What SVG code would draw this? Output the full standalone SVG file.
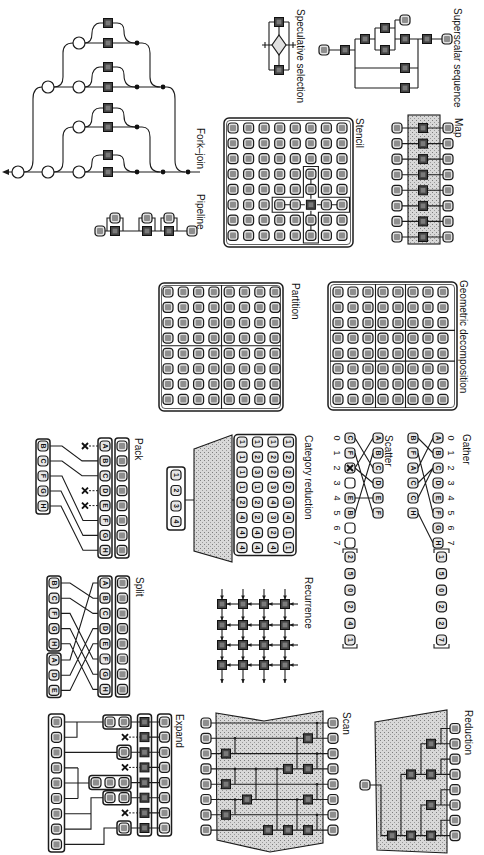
<svg xmlns="http://www.w3.org/2000/svg" width="484" height="855" viewBox="0 0 484 855">
<defs>
<style>
.l{fill:none;stroke:#1c1c1c;stroke-width:1.1}
.la{fill:none;stroke:#1c1c1c;stroke-width:1.1;marker-end:url(#ar)}
.fr{fill:none;stroke:#1c1c1c;stroke-width:1.5}
.fi{fill:none;stroke:#1c1c1c;stroke-width:0.7}
.sh{fill:url(#st);stroke:#1c1c1c;stroke-width:1.1}
.dt{fill:none;stroke:#1c1c1c;stroke-width:1;stroke-dasharray:2 1.5}
.lb{font-family:"Liberation Sans",Arial,sans-serif;font-size:10px;fill:#111}
.t{font-family:"Liberation Sans",Arial,sans-serif;font-size:7px;font-weight:bold;fill:#111;text-anchor:middle;dominant-baseline:central}
.n{font-family:"Liberation Sans",Arial,sans-serif;font-size:9px;fill:#111;text-anchor:middle;dominant-baseline:central}
</style>
<pattern id="st" width="4" height="4" patternUnits="userSpaceOnUse"><rect width="4" height="4" fill="#d8d8d8"/><rect width="1" height="1" fill="#7e7e7e"/><rect x="2" y="2" width="1" height="1" fill="#9a9a9a"/></pattern>
<g id="c"><rect x="-5" y="-5" width="10" height="10" rx="3" fill="#e2e2e2" stroke="#1a1a1a" stroke-width="1.2"/><rect x="-3" y="-3" width="6" height="6" rx="1" fill="#8e8e8e"/></g>
<g id="e"><rect x="-5" y="-5" width="10" height="10" rx="3" fill="#e6e6e6" stroke="#1a1a1a" stroke-width="1.2"/></g>
<g id="w"><rect x="-5" y="-5" width="10" height="10" rx="3" fill="#fff" stroke="#1a1a1a" stroke-width="1.2"/></g>
<g id="d"><rect x="-4.5" y="-4.5" width="9" height="9" fill="#444" stroke="#111" stroke-width="1"/><rect x="-2.4" y="-2.4" width="4.8" height="4.8" fill="#7a7a7a"/></g>
<g id="x"><path d="M-3,-3 L3,3 M3,-3 L-3,3" stroke="#111" stroke-width="1.9" fill="none"/></g>
<g id="col8"><use href="#c"/><use href="#c" y="15.35"/><use href="#c" y="30.7"/><use href="#c" y="46.05"/><use href="#c" y="61.4"/><use href="#c" y="76.75"/><use href="#c" y="92.1"/><use href="#c" y="107.45"/></g>
<marker id="ar" viewBox="0 0 6 6" refX="5.5" refY="3" markerWidth="4" markerHeight="4" orient="auto"><path d="M0,0.5 L6,3 L0,5.5 z" fill="#1c1c1c"/></marker>
</defs>
<rect width="484" height="855" fill="#fff"/>

<g id="fork-join">
<path class="l" d="M8,172 H200 M48,87 H163 M79,127 H137 M79,43 H137"/>
<path d="M2,172 L9,169 L9,175 z" fill="#1c1c1c"/>
<path class="l" d="M24,172 C30,172 33,168 33,160 V99 C33,91 36,87 42,87 M54,172 C60,172 63,168 63,162 V137 C63,130 66,127 73,127 M85,172 C91,172 92,166 92,162 C92,158 95,155 100,155 H104 M112,155 H117 C122,155 124,158 124,163 C124,169 127,172 135,172 M85,127 C91,127 92,121 92,117 C92,112 95,108 100,108 H104 M112,108 H117 C122,108 124,111 124,116 C124,123 127,127 135,127 M137,127 H142 C148,127 150,131 150,137 V162 C150,168 153,172 160,172 M85,87 C91,87 92,81 92,77 C92,72 95,67 100,67 H104 M112,67 H117 C122,67 124,70 124,75 C124,82 127,87 135,87 M54,87 C60,87 63,83 63,77 V53 C63,46 66,43 73,43 M85,43 C91,43 92,37 92,33 C92,28 95,23 100,23 H104 M112,23 H117 C122,23 124,26 124,31 C124,38 127,43 135,43 M137,43 H142 C148,43 150,47 150,53 V77 C150,83 153,87 160,87 M163,87 H167 C173,87 175,91 175,99 V160 C175,168 178,172 185,172"/>
<g fill="#fff" stroke="#1c1c1c" stroke-width="1.2"><circle cx="18" cy="172" r="6"/><circle cx="48" cy="172" r="6"/><circle cx="79" cy="172" r="6"/><circle cx="48" cy="87" r="6"/><circle cx="79" cy="127" r="6"/><circle cx="79" cy="87" r="6"/><circle cx="79" cy="43" r="6"/></g>
<g fill="#111"><circle cx="137" cy="172" r="2.4"/><circle cx="163" cy="172" r="2.4"/><circle cx="188" cy="172" r="2.4"/><circle cx="137" cy="127" r="2.4"/><circle cx="137" cy="87" r="2.4"/><circle cx="163" cy="87" r="2.4"/><circle cx="137" cy="43" r="2.4"/></g>
<use href="#d" x="108" y="172"/><use href="#d" x="108" y="155"/><use href="#d" x="108" y="127"/><use href="#d" x="108" y="108"/><use href="#d" x="108" y="87"/><use href="#d" x="108" y="67"/><use href="#d" x="108" y="43"/><use href="#d" x="108" y="23"/>
<text class="lb" transform="translate(197 128) rotate(90)">Fork–join</text>
</g>

<g id="pipeline">
<path class="l" d="M100,231 H192 M107,231 V218 H123 V231 M139,231 V218 H155 V231 M161,231 V218 H177 V231"/>
<use href="#c" x="100" y="231"/><use href="#d" x="115" y="231"/><use href="#d" x="147" y="231"/><use href="#d" x="169" y="231"/><use href="#c" x="192" y="231"/>
<use href="#c" x="115" y="218"/><use href="#c" x="147" y="218"/><use href="#c" x="169" y="218"/>
<text class="lb" transform="translate(197 194) rotate(90)">Pipeline</text>
</g>

<g id="speculative-selection">
<path class="l" d="M269,22 H289 M269,70 H289 M269,22 V70 M289,22 V70 M279,22 V70 M262,45 H296 M265,42 V48 M293,42 V48"/>
<polygon points="279,35 286,45 279,55 272,45" fill="#e0e0e0" stroke="#1c1c1c" stroke-width="1.2"/>
<use href="#d" x="279" y="22"/><use href="#d" x="279" y="70"/>
<text class="lb" transform="translate(297 9) rotate(90)">Speculative selection</text>
</g>

<g id="superscalar-sequence">
<path class="l" d="M329,50 H341 M349,50 H355 M355,39 V88 M355,39 H361 M355,68 H401 M355,88 H401 M369,39 H375 M375,28 V50 M375,28 H381 M375,50 H381 M389,28 H395 M395,20 V50 M395,20 H400 M389,50 H395 M395,39 H401 M409,39 H423 M409,68 H418 M409,88 H418 M418,39 V88 M431,39 H442"/>
<use href="#c" x="324" y="50"/><use href="#d" x="345" y="50"/><use href="#d" x="365" y="39"/><use href="#d" x="385" y="28"/><use href="#c" x="405" y="20"/><use href="#d" x="385" y="50"/><use href="#d" x="405" y="39"/><use href="#d" x="427" y="39"/><use href="#c" x="447" y="39"/><use href="#d" x="405" y="68"/><use href="#d" x="405" y="88"/>
<text class="lb" transform="translate(454 8) rotate(90)">Superscalar sequence</text>
</g>

<g id="map">
<rect x="408" y="115" width="32" height="129" class="sh"/>
<path class="l" d="M397,128 H448 M397,143.6 H448 M397,159.1 H448 M397,174.7 H448 M397,190.3 H448 M397,205.9 H448 M397,221.4 H448 M397,237 H448"/>
<use href="#c" x="397" y="128"/><use href="#d" x="423" y="128"/><use href="#c" x="448" y="128"/>
<use href="#c" x="397" y="143.6"/><use href="#d" x="423" y="143.6"/><use href="#c" x="448" y="143.6"/>
<use href="#c" x="397" y="159.1"/><use href="#d" x="423" y="159.1"/><use href="#c" x="448" y="159.1"/>
<use href="#c" x="397" y="174.7"/><use href="#d" x="423" y="174.7"/><use href="#c" x="448" y="174.7"/>
<use href="#c" x="397" y="190.3"/><use href="#d" x="423" y="190.3"/><use href="#c" x="448" y="190.3"/>
<use href="#c" x="397" y="205.9"/><use href="#d" x="423" y="205.9"/><use href="#c" x="448" y="205.9"/>
<use href="#c" x="397" y="221.4"/><use href="#d" x="423" y="221.4"/><use href="#c" x="448" y="221.4"/>
<use href="#c" x="397" y="237"/><use href="#d" x="423" y="237"/><use href="#c" x="448" y="237"/>
<text class="lb" transform="translate(455 118) rotate(90)">Map</text>
</g>

<g id="stencil">
<rect x="224" y="118" width="129" height="129" rx="5" class="fr"/>
<rect x="226.5" y="120.5" width="124" height="124" rx="3.5" class="fi"/>
<use href="#col8" x="233" y="128"/><use href="#col8" x="248.6" y="128"/><use href="#col8" x="264.1" y="128"/><use href="#col8" x="279.7" y="128"/><use href="#col8" x="295.3" y="128"/><use href="#col8" x="310.9" y="128"/><use href="#col8" x="326.4" y="128"/><use href="#col8" x="342" y="128"/>
<path class="l" d="M303.4,166.5 H318.4 V197.25 H349.5 V212.25 H318.4 V243 H303.4 V212.25 H272.2 V197.25 H303.4 Z"/>
<path class="l" d="M310.9,179 V184.4 M310.9,194.4 V200 M310.9,209.5 V215.1 M310.9,225.1 V230.5 M284.7,204.75 H290.3 M300.3,204.75 H306.4 M315.4,204.75 H321.4 M331.4,204.75 H337"/>
<rect x="304.9" y="198.75" width="12" height="12" fill="#fff"/>
<use href="#d" x="310.9" y="204.75"/>
<text class="lb" transform="translate(356 118) rotate(90)">Stencil</text>
</g>

<g id="partition">
<rect x="159" y="283" width="124" height="128" rx="5" class="fr"/>
<rect x="161.5" y="285.5" width="119" height="123" rx="3.5" class="fi"/>
<path class="l" d="M221.5,285 V409 M161,345.7 H281"/>
<use href="#col8" x="168" y="292"/><use href="#col8" x="183.3" y="292"/><use href="#col8" x="198.6" y="292"/><use href="#col8" x="213.9" y="292"/><use href="#col8" x="229.2" y="292"/><use href="#col8" x="244.5" y="292"/><use href="#col8" x="259.8" y="292"/><use href="#col8" x="275.1" y="292"/>
<text class="lb" transform="translate(292 283) rotate(90)">Partition</text>
</g>

<g id="geometric-decomposition">
<rect x="328" y="282" width="129" height="128" rx="5" class="fr"/>
<rect x="330.5" y="284.5" width="124" height="123" rx="3.5" class="fi"/>
<path class="l" d="M375.5,284 V408 M405.5,284 V408 M330,330.4 H455 M330,361.1 H455"/>
<use href="#col8" x="338" y="292"/><use href="#col8" x="353" y="292"/><use href="#col8" x="368" y="292"/><use href="#col8" x="383" y="292"/><use href="#col8" x="398" y="292"/><use href="#col8" x="413" y="292"/><use href="#col8" x="428" y="292"/><use href="#col8" x="443" y="292"/>
<text class="lb" transform="translate(460 280) rotate(90)">Geometric decomposition</text>
</g>

<g id="pack">
<rect x="115" y="438" width="14" height="120" rx="3" class="fr"/>
<rect x="98" y="438" width="14" height="120" rx="3" class="fr"/>
<rect x="36" y="439" width="14" height="75" rx="3" class="fr"/>
<path class="l" d="M98,460.9 H82 L62,446 H50 M98,475.8 H82 L62,461 H50 M98,520.5 H83 L62,476 H50 M98,535.4 H83 L61,491 H50 M98,550.3 H83 L61,506 H50"/>
<path class="dt" d="M89,446 H98 M89,490.7 H98 M89,505.6 H98"/>
<use href="#x" x="85" y="446"/><use href="#x" x="85" y="490.7"/><use href="#x" x="85" y="505.6"/>
<use href="#c" x="122" y="446"/><use href="#c" x="122" y="460.9"/><use href="#c" x="122" y="475.8"/><use href="#c" x="122" y="490.7"/><use href="#c" x="122" y="505.6"/><use href="#c" x="122" y="520.5"/><use href="#c" x="122" y="535.4"/><use href="#c" x="122" y="550.3"/>
<use href="#e" x="105" y="446"/><use href="#e" x="105" y="460.9"/><use href="#e" x="105" y="475.8"/><use href="#e" x="105" y="490.7"/><use href="#e" x="105" y="505.6"/><use href="#e" x="105" y="520.5"/><use href="#e" x="105" y="535.4"/><use href="#e" x="105" y="550.3"/>
<text class="t" transform="translate(105 446) rotate(90)">A</text><text class="t" transform="translate(105 460.9) rotate(90)">B</text><text class="t" transform="translate(105 475.8) rotate(90)">C</text><text class="t" transform="translate(105 490.7) rotate(90)">D</text><text class="t" transform="translate(105 505.6) rotate(90)">E</text><text class="t" transform="translate(105 520.5) rotate(90)">F</text><text class="t" transform="translate(105 535.4) rotate(90)">G</text><text class="t" transform="translate(105 550.3) rotate(90)">H</text>
<use href="#e" x="43" y="446"/><use href="#e" x="43" y="461"/><use href="#e" x="43" y="476"/><use href="#e" x="43" y="491"/><use href="#e" x="43" y="506"/>
<text class="t" transform="translate(43 446) rotate(90)">B</text><text class="t" transform="translate(43 461) rotate(90)">C</text><text class="t" transform="translate(43 476) rotate(90)">F</text><text class="t" transform="translate(43 491) rotate(90)">G</text><text class="t" transform="translate(43 506) rotate(90)">H</text>
<text class="lb" transform="translate(135 438) rotate(90)">Pack</text>
</g>

<g id="category-reduction">
<rect x="234" y="434.5" width="62" height="121" rx="4" class="fr"/>
<polygon points="194,449 232,435 232,562 194,551" class="sh"/>
<path class="l" d="M185,500 H194 M232,500 H234"/>
<rect x="167" y="467" width="18" height="63" rx="3" class="fr"/>
<g>
<use href="#e" x="242" y="442"/><use href="#e" x="257.5" y="442"/><use href="#e" x="273" y="442"/><use href="#e" x="288.5" y="442"/>
<use href="#e" x="242" y="457.1"/><use href="#e" x="257.5" y="457.1"/><use href="#e" x="273" y="457.1"/><use href="#e" x="288.5" y="457.1"/>
<use href="#e" x="242" y="472.2"/><use href="#e" x="257.5" y="472.2"/><use href="#e" x="273" y="472.2"/><use href="#e" x="288.5" y="472.2"/>
<use href="#e" x="242" y="487.3"/><use href="#e" x="257.5" y="487.3"/><use href="#e" x="273" y="487.3"/><use href="#e" x="288.5" y="487.3"/>
<use href="#e" x="242" y="502.4"/><use href="#e" x="257.5" y="502.4"/><use href="#e" x="273" y="502.4"/><use href="#e" x="288.5" y="502.4"/>
<use href="#e" x="242" y="517.5"/><use href="#e" x="257.5" y="517.5"/><use href="#e" x="273" y="517.5"/><use href="#e" x="288.5" y="517.5"/>
<use href="#e" x="242" y="532.6"/><use href="#e" x="257.5" y="532.6"/><use href="#e" x="273" y="532.6"/><use href="#e" x="288.5" y="532.6"/>
<use href="#e" x="242" y="547.7"/><use href="#e" x="257.5" y="547.7"/><use href="#e" x="273" y="547.7"/><use href="#e" x="288.5" y="547.7"/>
</g>
<g>
<text class="t" transform="translate(242 442) rotate(90)">1</text><text class="t" transform="translate(257.5 442) rotate(90)">1</text><text class="t" transform="translate(273 442) rotate(90)">1</text><text class="t" transform="translate(288.5 442) rotate(90)">1</text>
<text class="t" transform="translate(242 457.1) rotate(90)">1</text><text class="t" transform="translate(257.5 457.1) rotate(90)">2</text><text class="t" transform="translate(273 457.1) rotate(90)">2</text><text class="t" transform="translate(288.5 457.1) rotate(90)">2</text>
<text class="t" transform="translate(242 472.2) rotate(90)">1</text><text class="t" transform="translate(257.5 472.2) rotate(90)">3</text><text class="t" transform="translate(273 472.2) rotate(90)">2</text><text class="t" transform="translate(288.5 472.2) rotate(90)">2</text>
<text class="t" transform="translate(242 487.3) rotate(90)">1</text><text class="t" transform="translate(257.5 487.3) rotate(90)">1</text><text class="t" transform="translate(273 487.3) rotate(90)">3</text><text class="t" transform="translate(288.5 487.3) rotate(90)">2</text>
<text class="t" transform="translate(242 502.4) rotate(90)">2</text><text class="t" transform="translate(257.5 502.4) rotate(90)">2</text><text class="t" transform="translate(273 502.4) rotate(90)">4</text><text class="t" transform="translate(288.5 502.4) rotate(90)">3</text>
<text class="t" transform="translate(242 517.5) rotate(90)">4</text><text class="t" transform="translate(257.5 517.5) rotate(90)">2</text><text class="t" transform="translate(273 517.5) rotate(90)">3</text><text class="t" transform="translate(288.5 517.5) rotate(90)">4</text>
<text class="t" transform="translate(242 532.6) rotate(90)">4</text><text class="t" transform="translate(257.5 532.6) rotate(90)">4</text><text class="t" transform="translate(273 532.6) rotate(90)">2</text><text class="t" transform="translate(288.5 532.6) rotate(90)">1</text>
<text class="t" transform="translate(242 547.7) rotate(90)">4</text><text class="t" transform="translate(257.5 547.7) rotate(90)">4</text><text class="t" transform="translate(273 547.7) rotate(90)">4</text><text class="t" transform="translate(288.5 547.7) rotate(90)">1</text>
</g>
<use href="#e" x="176" y="475"/><use href="#e" x="176" y="490.5"/><use href="#e" x="176" y="506"/><use href="#e" x="176" y="521.5"/>
<text class="t" transform="translate(176 475) rotate(90)">1</text><text class="t" transform="translate(176 490.5) rotate(90)">2</text><text class="t" transform="translate(176 506) rotate(90)">3</text><text class="t" transform="translate(176 521.5) rotate(90)">4</text>
<text class="lb" transform="translate(305 435) rotate(90)">Category reduction</text>
</g>

<g id="scatter">
<path class="l" d="M373,438 L355,468 M373,453 L355,513 M373,468 L355,438 M373,483 L355,468 M373,498 L355,498 M373,513 L355,453"/>
<use href="#e" x="378" y="438"/><use href="#e" x="378" y="453"/><use href="#e" x="378" y="468"/><use href="#e" x="378" y="483"/><use href="#e" x="378" y="498"/><use href="#e" x="378" y="513"/>
<text class="t" transform="translate(378 438) rotate(90)">A</text><text class="t" transform="translate(378 453) rotate(90)">B</text><text class="t" transform="translate(378 468) rotate(90)">C</text><text class="t" transform="translate(378 483) rotate(90)">D</text><text class="t" transform="translate(378 498) rotate(90)">E</text><text class="t" transform="translate(378 513) rotate(90)">F</text>
<use href="#e" x="350" y="438"/><use href="#e" x="350" y="453"/><use href="#e" x="350" y="468"/><use href="#w" x="350" y="483"/><use href="#e" x="350" y="498"/><use href="#e" x="350" y="513"/><use href="#w" x="350" y="528"/><use href="#w" x="350" y="543"/>
<text class="t" transform="translate(350 438) rotate(90)">C</text><text class="t" transform="translate(350 453) rotate(90)">F</text><use href="#x" x="350" y="468"/><text class="t" transform="translate(350 498) rotate(90)">E</text><text class="t" transform="translate(350 513) rotate(90)">B</text>
<text class="n" transform="translate(337 438) rotate(90)">0</text><text class="n" transform="translate(337 453) rotate(90)">1</text><text class="n" transform="translate(337 468) rotate(90)">2</text><text class="n" transform="translate(337 483) rotate(90)">3</text><text class="n" transform="translate(337 498) rotate(90)">4</text><text class="n" transform="translate(337 513) rotate(90)">5</text><text class="n" transform="translate(337 528) rotate(90)">6</text><text class="n" transform="translate(337 543) rotate(90)">7</text>
<path class="l" d="M343,553 V549 H357 V553 M343,644 V648 H357 V644"/>
<use href="#e" x="350" y="557"/><use href="#e" x="350" y="573.6"/><use href="#e" x="350" y="590.2"/><use href="#e" x="350" y="606.8"/><use href="#e" x="350" y="623.4"/><use href="#e" x="350" y="640"/>
<text class="t" transform="translate(350 557) rotate(90)">2</text><text class="t" transform="translate(350 573.6) rotate(90)">5</text><text class="t" transform="translate(350 590.2) rotate(90)">0</text><text class="t" transform="translate(350 606.8) rotate(90)">2</text><text class="t" transform="translate(350 623.4) rotate(90)">4</text><text class="t" transform="translate(350 640) rotate(90)">1</text>
<text class="lb" transform="translate(385 435) rotate(90)">Scatter</text>
</g>

<g id="gather">
<path class="l" d="M433,438 L418,468 M433,453 L418,438 M433,468 L418,483 M433,468 L418,498 M433,513 L418,453 M433,543 L418,513"/>
<use href="#e" x="438" y="438"/><use href="#e" x="438" y="453"/><use href="#e" x="438" y="468"/><use href="#e" x="438" y="483"/><use href="#e" x="438" y="498"/><use href="#e" x="438" y="513"/><use href="#e" x="438" y="528"/><use href="#e" x="438" y="543"/>
<text class="t" transform="translate(438 438) rotate(90)">A</text><text class="t" transform="translate(438 453) rotate(90)">B</text><text class="t" transform="translate(438 468) rotate(90)">C</text><text class="t" transform="translate(438 483) rotate(90)">D</text><text class="t" transform="translate(438 498) rotate(90)">E</text><text class="t" transform="translate(438 513) rotate(90)">F</text><text class="t" transform="translate(438 528) rotate(90)">G</text><text class="t" transform="translate(438 543) rotate(90)">H</text>
<text class="n" transform="translate(451 438) rotate(90)">0</text><text class="n" transform="translate(451 453) rotate(90)">1</text><text class="n" transform="translate(451 468) rotate(90)">2</text><text class="n" transform="translate(451 483) rotate(90)">3</text><text class="n" transform="translate(451 498) rotate(90)">4</text><text class="n" transform="translate(451 513) rotate(90)">5</text><text class="n" transform="translate(451 528) rotate(90)">6</text><text class="n" transform="translate(451 543) rotate(90)">7</text>
<use href="#e" x="413" y="438"/><use href="#e" x="413" y="453"/><use href="#e" x="413" y="468"/><use href="#e" x="413" y="483"/><use href="#e" x="413" y="498"/><use href="#e" x="413" y="513"/>
<text class="t" transform="translate(413 438) rotate(90)">B</text><text class="t" transform="translate(413 453) rotate(90)">F</text><text class="t" transform="translate(413 468) rotate(90)">A</text><text class="t" transform="translate(413 483) rotate(90)">C</text><text class="t" transform="translate(413 498) rotate(90)">C</text><text class="t" transform="translate(413 513) rotate(90)">H</text>
<path class="l" d="M434,553 V549 H449 V553 M434,644 V648 H449 V644"/>
<use href="#e" x="441.5" y="557"/><use href="#e" x="441.5" y="573.6"/><use href="#e" x="441.5" y="590.2"/><use href="#e" x="441.5" y="606.8"/><use href="#e" x="441.5" y="623.4"/><use href="#e" x="441.5" y="640"/>
<text class="t" transform="translate(441.5 557) rotate(90)">1</text><text class="t" transform="translate(441.5 573.6) rotate(90)">5</text><text class="t" transform="translate(441.5 590.2) rotate(90)">0</text><text class="t" transform="translate(441.5 606.8) rotate(90)">2</text><text class="t" transform="translate(441.5 623.4) rotate(90)">2</text><text class="t" transform="translate(441.5 640) rotate(90)">7</text>
<text class="lb" transform="translate(463 434) rotate(90)">Gather</text>
</g>

<g id="split">
<rect x="115.5" y="576" width="14" height="121" rx="3" class="fr"/>
<rect x="98" y="576" width="14" height="121" rx="3" class="fr"/>
<rect x="47" y="576" width="14" height="75" rx="3" class="fr"/>
<rect x="47" y="653" width="14" height="44.5" rx="3" class="fr"/>
<path class="l" d="M98,583 H93 L70,660 H61 M98,598.2 H93 L70,583 H61 M98,613.4 H93 L70,598.2 H61 M98,628.6 H93 L70,675.2 H61 M98,643.8 H93 L70,690.4 H61 M98,659 H93 L70,613.4 H61 M98,674.2 H93 L70,628.6 H61 M98,689.4 H93 L70,643.8 H61"/>
<use href="#c" x="122.5" y="583"/><use href="#c" x="122.5" y="598.2"/><use href="#c" x="122.5" y="613.4"/><use href="#c" x="122.5" y="628.6"/><use href="#c" x="122.5" y="643.8"/><use href="#c" x="122.5" y="659"/><use href="#c" x="122.5" y="674.2"/><use href="#c" x="122.5" y="689.4"/>
<use href="#e" x="105" y="583"/><use href="#e" x="105" y="598.2"/><use href="#e" x="105" y="613.4"/><use href="#e" x="105" y="628.6"/><use href="#e" x="105" y="643.8"/><use href="#e" x="105" y="659"/><use href="#e" x="105" y="674.2"/><use href="#e" x="105" y="689.4"/>
<text class="t" transform="translate(105 583) rotate(90)">A</text><text class="t" transform="translate(105 598.2) rotate(90)">B</text><text class="t" transform="translate(105 613.4) rotate(90)">C</text><text class="t" transform="translate(105 628.6) rotate(90)">D</text><text class="t" transform="translate(105 643.8) rotate(90)">E</text><text class="t" transform="translate(105 659) rotate(90)">F</text><text class="t" transform="translate(105 674.2) rotate(90)">G</text><text class="t" transform="translate(105 689.4) rotate(90)">H</text>
<use href="#e" x="54" y="583"/><use href="#e" x="54" y="598.2"/><use href="#e" x="54" y="613.4"/><use href="#e" x="54" y="628.6"/><use href="#e" x="54" y="643.8"/><use href="#e" x="54" y="660"/><use href="#e" x="54" y="675.2"/><use href="#e" x="54" y="690.4"/>
<text class="t" transform="translate(54 583) rotate(90)">B</text><text class="t" transform="translate(54 598.2) rotate(90)">C</text><text class="t" transform="translate(54 613.4) rotate(90)">F</text><text class="t" transform="translate(54 628.6) rotate(90)">G</text><text class="t" transform="translate(54 643.8) rotate(90)">H</text><text class="t" transform="translate(54 660) rotate(90)">A</text><text class="t" transform="translate(54 675.2) rotate(90)">D</text><text class="t" transform="translate(54 690.4) rotate(90)">E</text>
<text class="lb" transform="translate(136 577) rotate(90)">Split</text>
</g>

<g id="recurrence">
<line class="la" x1="298" y1="604" x2="289.5" y2="604"/><line class="la" x1="280.5" y1="604" x2="268.5" y2="604"/><line class="la" x1="259.5" y1="604" x2="247.5" y2="604"/><line class="la" x1="238.5" y1="604" x2="226.5" y2="604"/>
<line class="la" x1="298" y1="625" x2="289.5" y2="625"/><line class="la" x1="280.5" y1="625" x2="268.5" y2="625"/><line class="la" x1="259.5" y1="625" x2="247.5" y2="625"/><line class="la" x1="238.5" y1="625" x2="226.5" y2="625"/>
<line class="la" x1="298" y1="645" x2="289.5" y2="645"/><line class="la" x1="280.5" y1="645" x2="268.5" y2="645"/><line class="la" x1="259.5" y1="645" x2="247.5" y2="645"/><line class="la" x1="238.5" y1="645" x2="226.5" y2="645"/>
<line class="la" x1="298" y1="665" x2="289.5" y2="665"/><line class="la" x1="280.5" y1="665" x2="268.5" y2="665"/><line class="la" x1="259.5" y1="665" x2="247.5" y2="665"/><line class="la" x1="238.5" y1="665" x2="226.5" y2="665"/>
<line class="la" x1="222" y1="589" x2="222" y2="599.5"/><line class="la" x1="222" y1="608.5" x2="222" y2="620.5"/><line class="la" x1="222" y1="629.5" x2="222" y2="640.5"/><line class="la" x1="222" y1="649.5" x2="222" y2="660.5"/><line class="la" x1="222" y1="669.5" x2="222" y2="683"/>
<line class="la" x1="243" y1="589" x2="243" y2="599.5"/><line class="la" x1="243" y1="608.5" x2="243" y2="620.5"/><line class="la" x1="243" y1="629.5" x2="243" y2="640.5"/><line class="la" x1="243" y1="649.5" x2="243" y2="660.5"/><line class="la" x1="243" y1="669.5" x2="243" y2="683"/>
<line class="la" x1="264" y1="589" x2="264" y2="599.5"/><line class="la" x1="264" y1="608.5" x2="264" y2="620.5"/><line class="la" x1="264" y1="629.5" x2="264" y2="640.5"/><line class="la" x1="264" y1="649.5" x2="264" y2="660.5"/><line class="la" x1="264" y1="669.5" x2="264" y2="683"/>
<line class="la" x1="285" y1="589" x2="285" y2="599.5"/><line class="la" x1="285" y1="608.5" x2="285" y2="620.5"/><line class="la" x1="285" y1="629.5" x2="285" y2="640.5"/><line class="la" x1="285" y1="649.5" x2="285" y2="660.5"/><line class="la" x1="285" y1="669.5" x2="285" y2="683"/>
<use href="#d" x="222" y="604"/><use href="#d" x="243" y="604"/><use href="#d" x="264" y="604"/><use href="#d" x="285" y="604"/>
<use href="#d" x="222" y="625"/><use href="#d" x="243" y="625"/><use href="#d" x="264" y="625"/><use href="#d" x="285" y="625"/>
<use href="#d" x="222" y="645"/><use href="#d" x="243" y="645"/><use href="#d" x="264" y="645"/><use href="#d" x="285" y="645"/>
<use href="#d" x="222" y="665"/><use href="#d" x="243" y="665"/><use href="#d" x="264" y="665"/><use href="#d" x="285" y="665"/>
<text class="lb" transform="translate(305 577) rotate(90)">Recurrence</text>
</g>

<g id="expand">
<rect x="157.5" y="714" width="14" height="122" rx="3" class="fr"/>
<rect x="137.5" y="714" width="14" height="122" rx="3" class="fr"/>
<rect x="48.5" y="714" width="16" height="138" rx="3" class="fr"/>
<path class="l" d="M149,722 H160 M149,737.1 H160 M149,752.3 H160 M149,767.4 H160 M149,782.6 H160 M149,797.7 H160 M149,812.9 H160 M149,828 H160 M131,722 H140 M131,752.3 H140 M131,782.6 H140 M131,797.7 H140 M131,828 H140"/>
<path class="dt" d="M129,737.1 H140 M129,767.4 H140 M129,812.9 H140"/>
<use href="#x" x="125" y="737.1"/><use href="#x" x="125" y="767.4"/><use href="#x" x="125" y="812.9"/>
<path class="l" d="M103,722 H64.5 M77,722 V737.3 H64.5 M117,752.4 H64.5 M89,783 H64.5 M78,767.9 V798.5 M78,767.9 H64.5 M78,798.5 H64.5 M103,797.7 H91 V829.1 H64.5 M91,813.8 H64.5 M117,828 H104 V844.4 H64.5"/>
<rect x="103" y="715" width="28" height="14" rx="3" class="fr"/>
<rect x="117" y="745.3" width="14" height="14" rx="3" class="fr"/>
<rect x="89" y="775.6" width="42" height="14" rx="3" class="fr"/>
<rect x="103" y="790.7" width="28" height="14" rx="3" class="fr"/>
<rect x="117" y="821" width="14" height="14" rx="3" class="fr"/>
<use href="#c" x="110" y="722"/><use href="#c" x="124" y="722"/><use href="#c" x="124" y="752.3"/><use href="#c" x="96" y="782.6"/><use href="#c" x="110" y="782.6"/><use href="#c" x="124" y="782.6"/><use href="#c" x="110" y="797.7"/><use href="#c" x="124" y="797.7"/><use href="#c" x="124" y="828"/>
<use href="#d" x="144.5" y="722"/><use href="#d" x="144.5" y="737.1"/><use href="#d" x="144.5" y="752.3"/><use href="#d" x="144.5" y="767.4"/><use href="#d" x="144.5" y="782.6"/><use href="#d" x="144.5" y="797.7"/><use href="#d" x="144.5" y="812.9"/><use href="#d" x="144.5" y="828"/>
<use href="#c" x="164.5" y="722"/><use href="#c" x="164.5" y="737.1"/><use href="#c" x="164.5" y="752.3"/><use href="#c" x="164.5" y="767.4"/><use href="#c" x="164.5" y="782.6"/><use href="#c" x="164.5" y="797.7"/><use href="#c" x="164.5" y="812.9"/><use href="#c" x="164.5" y="828"/>
<use href="#c" x="56.5" y="722"/><use href="#c" x="56.5" y="737.3"/><use href="#c" x="56.5" y="752.6"/><use href="#c" x="56.5" y="767.9"/><use href="#c" x="56.5" y="783.2"/><use href="#c" x="56.5" y="798.5"/><use href="#c" x="56.5" y="813.8"/><use href="#c" x="56.5" y="829.1"/><use href="#c" x="56.5" y="844.4"/>
<text class="lb" transform="translate(176 714) rotate(90)">Expand</text>
</g>

<g id="scan">
<polygon points="216,713 264,721 323,711 323,843 270,852 217,840" class="sh"/>
<path class="l" d="M328,723 H211 M328,738.3 H211 M328,753.6 H211 M328,768.9 H211 M328,784.2 H211 M328,799.5 H211 M328,814.8 H211 M328,830.1 H211"/>
<path class="l" d="M317,723 V738.3 M317,753.6 V768.9 M317,784.2 V799.5 M317,814.8 V830.1 M297,738.3 V768.9 M297,799.5 V830.1 M277,768.9 V830.1 M256,768.9 V799.5 M235,738.3 V753.6 M235,768.9 V784.2 M235,799.5 V814.8"/>
<g fill="#1c1c1c"><circle cx="317" cy="723" r="1.3"/><circle cx="317" cy="753.6" r="1.3"/><circle cx="317" cy="784.2" r="1.3"/><circle cx="317" cy="814.8" r="1.3"/><circle cx="297" cy="738.3" r="1.3"/><circle cx="297" cy="799.5" r="1.3"/><circle cx="277" cy="768.9" r="1.3"/><circle cx="256" cy="768.9" r="1.3"/><circle cx="235" cy="738.3" r="1.3"/><circle cx="235" cy="768.9" r="1.3"/><circle cx="235" cy="799.5" r="1.3"/></g>
<use href="#d" x="308" y="738.3"/><use href="#d" x="308" y="768.9"/><use href="#d" x="308" y="799.5"/><use href="#d" x="308" y="830.1"/><use href="#d" x="288" y="768.9"/><use href="#d" x="288" y="830.1"/><use href="#d" x="268" y="830.1"/><use href="#d" x="247" y="799.5"/><use href="#d" x="226" y="753.6"/><use href="#d" x="226" y="784.2"/><use href="#d" x="226" y="814.8"/>
<use href="#c" x="333" y="723"/><use href="#c" x="333" y="738.3"/><use href="#c" x="333" y="753.6"/><use href="#c" x="333" y="768.9"/><use href="#c" x="333" y="784.2"/><use href="#c" x="333" y="799.5"/><use href="#c" x="333" y="814.8"/><use href="#c" x="333" y="830.1"/>
<use href="#c" x="206" y="723"/><use href="#c" x="206" y="738.3"/><use href="#c" x="206" y="753.6"/><use href="#c" x="206" y="768.9"/><use href="#c" x="206" y="784.2"/><use href="#c" x="206" y="799.5"/><use href="#c" x="206" y="814.8"/><use href="#c" x="206" y="830.1"/>
<text class="lb" transform="translate(343 712) rotate(90)">Scan</text>
</g>

<g id="reduction">
<polygon points="375,722 447,710 447,853 377,850" class="sh"/>
<path class="l" d="M450,743.8 H435.5 M450,728.5 H441 V743.8 M450,774.4 H435.5 M450,759.1 H441 V774.4 M450,805 H435.5 M450,789.7 H441 V805 M450,835.6 H435.5 M450,820.3 H441 V835.6 M426.5,774.4 H415.5 M426.5,743.8 H421 V774.4 M426.5,835.6 H415.5 M426.5,805 H421 V835.6 M406.5,835.6 H396.5 M406.5,774.4 H401 V835.6 M387.5,835.6 H381 V785 H370"/>
<use href="#d" x="431" y="743.8"/><use href="#d" x="431" y="774.4"/><use href="#d" x="431" y="805"/><use href="#d" x="431" y="835.6"/><use href="#d" x="411" y="774.4"/><use href="#d" x="411" y="835.6"/><use href="#d" x="392" y="835.6"/>
<use href="#c" x="455" y="728.5"/><use href="#c" x="455" y="743.8"/><use href="#c" x="455" y="759.1"/><use href="#c" x="455" y="774.4"/><use href="#c" x="455" y="789.7"/><use href="#c" x="455" y="805"/><use href="#c" x="455" y="820.3"/><use href="#c" x="455" y="835.6"/>
<use href="#c" x="365" y="785"/>
<text class="lb" transform="translate(465 710) rotate(90)">Reduction</text>
</g>
</svg>
